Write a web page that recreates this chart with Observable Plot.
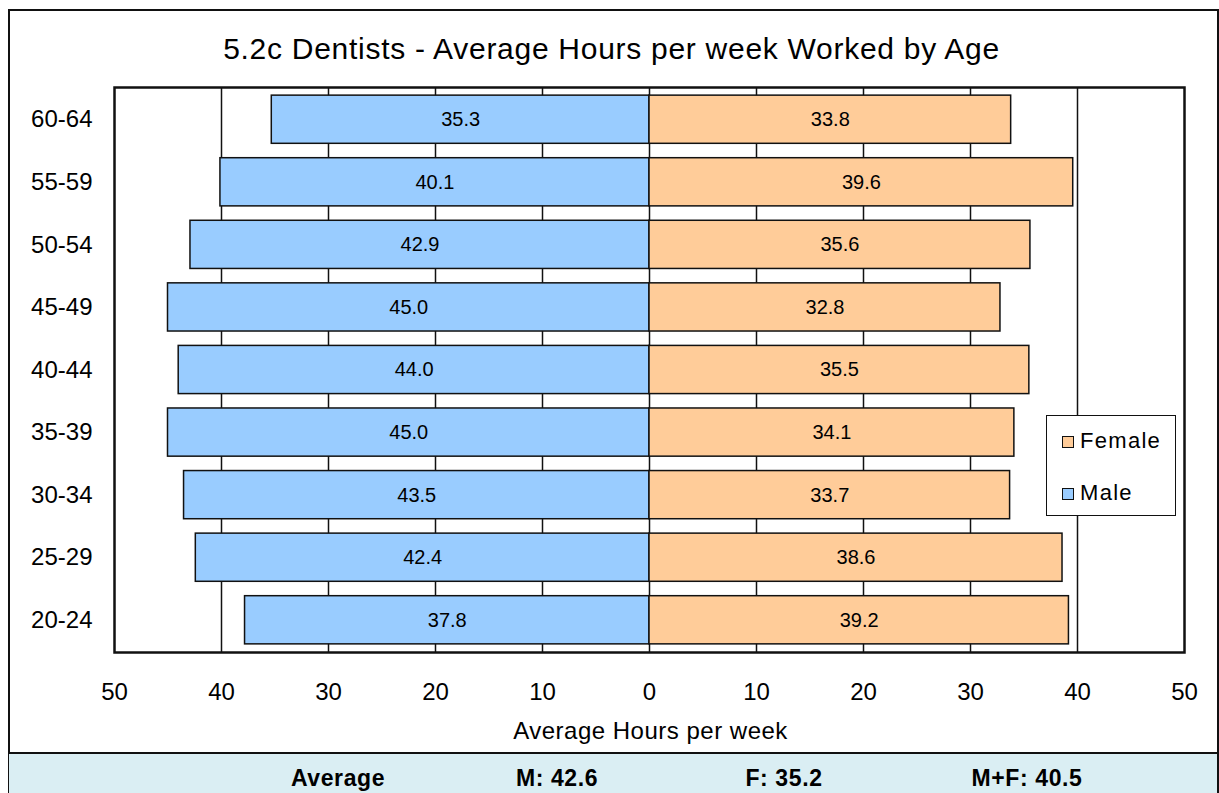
<!DOCTYPE html>
<html>
<head>
<meta charset="utf-8">
<script src="https://cdn.jsdelivr.net/npm/d3@7"></script>
<script src="https://cdn.jsdelivr.net/npm/@observablehq/plot@0.6"></script>
<style>
  html, body { margin: 0; padding: 0; background: #fff; }
  body { width: 1219px; height: 793px; overflow: hidden; font-family: "Liberation Sans", Arial, sans-serif; color: #000; }
  #wrap { position: relative; width: 1219px; height: 793px; }
  #border { position: absolute; left: 8px; top: 9px; width: 1207px; height: 800px; border: 2px solid #111; box-sizing: content-box; }
  #title { position: absolute; left: 0; top: 34px; width: 1223px; text-align: center; font-size: 30px; line-height: 30px; white-space: nowrap; letter-spacing: 0.72px; }
  #chart { position: absolute; left: 0; top: 70px; }
  #xlabel { position: absolute; left: 0; top: 719px; width: 1301px; text-align: center; font-size: 24px; line-height: 24px; white-space: nowrap; letter-spacing: 0.5px; }
  #band { position: absolute; left: 9px; top: 752px; width: 1208px; height: 50px; background: #DAEEF3; border-top: 2px solid #111; }
  .bt { position: absolute; top: 767px; font-weight: bold; font-size: 23px; line-height: 23px; white-space: nowrap; transform: translateX(-50%); letter-spacing: 0.6px; }
  #legend { position: absolute; left: 1046px; top: 415px; width: 128px; height: 99px; border: 1.5px solid #111; background: #fff; }
  .lg { position: absolute; left: 1062px; font-size: 22px; line-height: 22px; white-space: nowrap; letter-spacing: 1.3px; }
  .sw { display: inline-block; width: 10px; height: 10px; border: 1.5px solid #111; margin-right: 6px; vertical-align: 0px; }
</style>
</head>
<body>
<div id="wrap">
  <div id="border"></div>
  <div id="title"></div>
  <div id="chart"></div>
  <div id="xlabel"></div>
  <div id="band"></div>
  <div id="legend"></div>
</div>
<script>
// ---- data ----
const titleText = "5.2c Dentists - Average Hours per week Worked by Age";
const xLabel = "Average Hours per week";
const ages = ["60-64", "55-59", "50-54", "45-49", "40-44", "35-39", "30-34", "25-29", "20-24"];
const male = [35.3, 40.1, 42.9, 45.0, 44.0, 45.0, 43.5, 42.4, 37.8];
const female = [33.8, 39.6, 35.6, 32.8, 35.5, 34.1, 33.7, 38.6, 39.2];
const series = ["Male", "Female"];
const seriesColors = ["#99CCFF", "#FFCC99"];
const legendOrder = ["Female", "Male"];
const xTicks = [-50, -40, -30, -20, -10, 0, 10, 20, 30, 40, 50];
const gridTicks = [-40, -30, -20, -10, 0, 10, 20, 30, 40];
const summaryLabels = ["Average", "M: 42.6", "F: 35.2", "M+F: 40.5"];
const summaryCenters = [338, 557, 784, 1027];

// ---- table ----
const rows = ages.flatMap((a, i) => [
  {age: a, sex: "Male", v: male[i], s: -male[i]},
  {age: a, sex: "Female", v: female[i], s: female[i]}
]);

document.getElementById("title").textContent = titleText;
document.getElementById("xlabel").textContent = xLabel;

const chart = Plot.plot({
  width: 1219,
  height: 635,
  marginTop: 17,
  marginBottom: 53,
  marginLeft: 114,
  marginRight: 35,
  style: {fontFamily: "'Liberation Sans', Arial, sans-serif", fontSize: "24px", color: "#000", background: "transparent", overflow: "visible"},
  x: {domain: [-50, 50]},
  y: {domain: ages, paddingInner: 0.23, paddingOuter: 0.13, round: false},
  color: {domain: series, range: seriesColors},
  marks: [
    Plot.ruleX(gridTicks, {stroke: "#111", strokeWidth: 1.5}),
    Plot.barX(rows, {x1: 0, x2: "s", y: "age", fill: "sex", stroke: "#111", strokeWidth: 1.5}),
    Plot.text(rows, {x: d => d.s / 2, y: "age", text: d => d.v.toFixed(1), fontSize: 20, fill: "#000"}),
    Plot.frame({stroke: "#111", strokeWidth: 2.5}),
    Plot.axisX({ticks: xTicks, tickFormat: d => Math.abs(d), tickSize: 0, tickPadding: 30, label: null, fontSize: 24}),
    Plot.axisY({tickSize: 0, tickPadding: 22, label: null, fontSize: 24})
  ]
});
document.getElementById("chart").appendChild(chart);

// legend
const wrap = document.getElementById("wrap");
legendOrder.forEach((name, i) => {
  const el = document.createElement("div");
  el.className = "lg";
  el.style.top = (430 + i * 52) + "px";
  const sw = document.createElement("span");
  sw.className = "sw";
  sw.style.background = seriesColors[series.indexOf(name)];
  el.appendChild(sw);
  el.appendChild(document.createTextNode(name));
  wrap.appendChild(el);
});

// summary band
summaryLabels.forEach((t, i) => {
  const el = document.createElement("div");
  el.className = "bt";
  el.style.left = summaryCenters[i] + "px";
  el.textContent = t;
  wrap.appendChild(el);
});
</script>
</body>
</html>
